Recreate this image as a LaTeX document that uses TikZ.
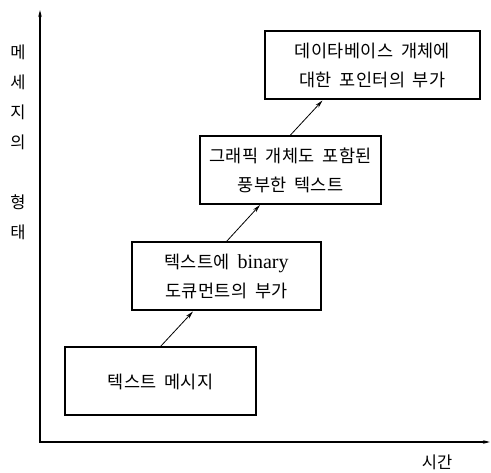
\documentclass[tikz,border=0pt]{standalone}
\usepackage{fontspec}
\setmainfont{Liberation Serif}
\newfontfamily\kr[LetterSpace=2,WordSpace=1.8]{Noto Sans CJK KR}
\newfontfamily\krlbl{Noto Sans CJK KR}
\usetikzlibrary{arrows.meta}
\tikzset{
  stage/.style={draw,line width=2pt,minimum width=#1,minimum height=68pt,
    inner sep=0pt,align=center,font=\kr\fontsize{17.5}{29}\selectfont},
  axis/.style={line width=1.4pt,{Stealth[length=7pt,width=3.5pt]}-{Stealth[length=7pt,width=3.5pt]}},
  step arrow/.style={line width=0.8pt,-{Stealth[length=8pt,width=4pt]}},
  lbl/.style={font=\krlbl\fontsize{16.5}{30}\selectfont,align=center}
}
\begin{document}
\begin{tikzpicture}[x=1pt,y=-1pt]
\useasboundingbox (0,0) rectangle (491,473);
\coordinate (orig) at (40,442);
\coordinate (ytop) at (40,10);
\coordinate (xend) at (490,442);
\draw[axis] (ytop) -- (orig) -- (xend);
\path (18,142) node[lbl] (ylab) {메\\세\\지\\의\\[30pt]형\\태};
\path (437,462) node[lbl] (xlab) {시간};
%\path (160,381) node[stage=191pt] (textA) {텍스트};
\path (160.5,381.5) node[stage=191pt] (textA) {텍스트 메시지};
\path (226.5,276.5) node[stage=189pt] (textB) {텍스트에 {\rmfamily\fontsize{20}{29}\selectfont binary}\\도큐먼트의 부가};
\path (290.5,170) node[stage=181pt] (textC) {그래픽 개체도 포함된\\풍부한 텍스트};
\path (372.5,65.5) node[stage=215pt] (textD) {데이타베이스 개체에\\대한 포인터의 부가};
\draw[step arrow] (textA.north) -- ([xshift=-33.5pt]textB.south);
\draw[step arrow] (textB.north) -- ([xshift=-30.5pt]textC.south);
\draw[step arrow] (textC.north) -- ([xshift=-50pt]textD.south);
\end{tikzpicture}
\end{document}
